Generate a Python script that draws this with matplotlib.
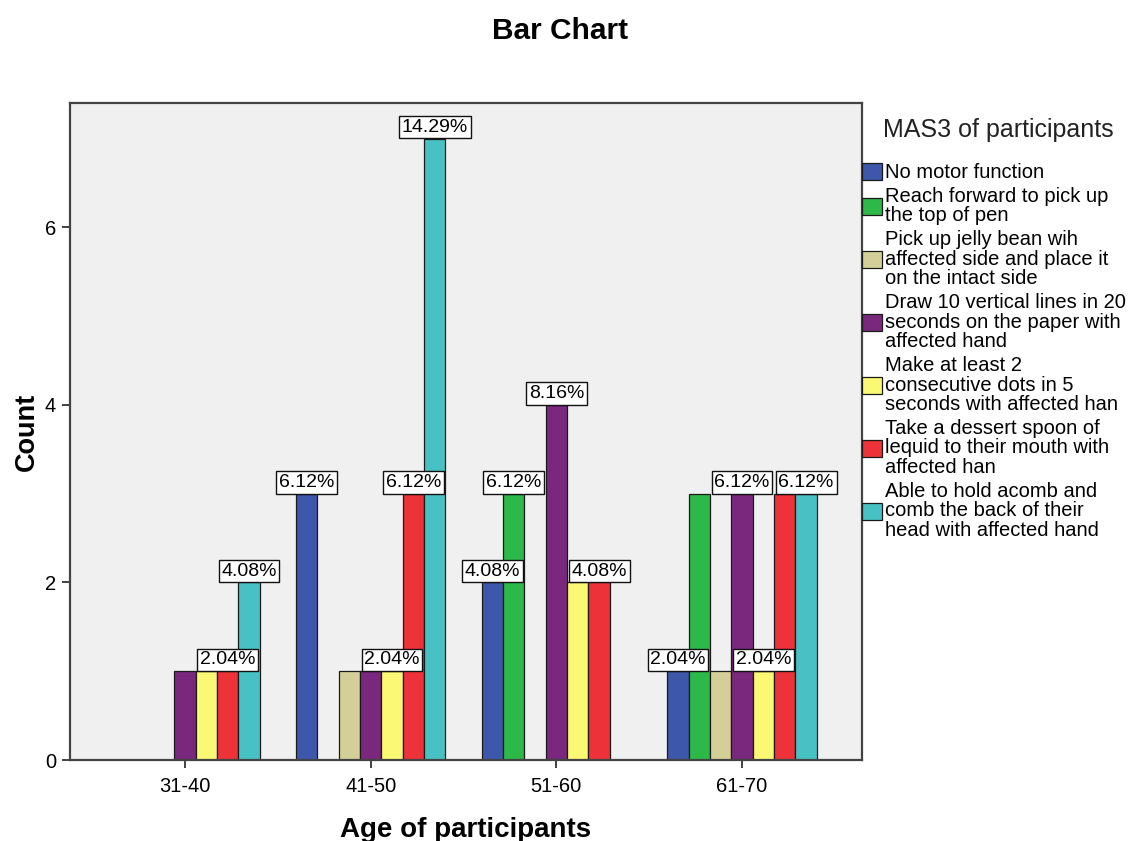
import numpy as np
import matplotlib
matplotlib.use("Agg")
import matplotlib.pyplot as plt
from matplotlib.patches import Patch

plt.rcParams['font.family'] = ['Liberation Sans', 'DejaVu Sans']

age_groups = ["31-40", "41-50", "51-60", "61-70"]
categories = [
    "No motor function",
    "Reach forward to pick up\nthe top of pen",
    "Pick up jelly bean wih\naffected side and place it\non the intact side",
    "Draw 10 vertical lines in 20\nseconds on the paper with\naffected hand",
    "Make at least 2\nconsecutive dots in 5\nseconds with affected han",
    "Take a dessert spoon of\nlequid to their mouth with\naffected han",
    "Able to hold acomb and\ncomb the back of their\nhead with affected hand",
]
colors = ["#3D57AA", "#2DB84A", "#D4CF98", "#7A287D", "#FBF874", "#EE3239", "#48C1C4"]

# counts per category, one value per age group
no_motor = [0, 3, 2, 1]
reach = [0, 0, 3, 3]
jelly = [0, 1, 0, 1]
draw_lines = [1, 1, 4, 3]
dots = [1, 1, 2, 1]
spoon = [1, 3, 2, 3]
comb = [2, 7, 0, 3]
counts = [no_motor, reach, jelly, draw_lines, dots, spoon, comb]
total = 49

# bars that carry a percentage label: (age group index, category index)
labelled = [(0, 5), (0, 6), (1, 0), (1, 4), (1, 5), (1, 6),
            (2, 0), (2, 1), (2, 3), (2, 5),
            (3, 0), (3, 3), (3, 4), (3, 6)]

W, H = 1139, 841
fig = plt.figure(figsize=(W / 100, H / 100), dpi=100)
ax = fig.add_axes([70 / W, 1 - 760 / H, (862 - 70) / W, (760 - 103) / H])
ax.set_facecolor("#F0F0F0")

x = np.arange(len(age_groups))
w = 0.115
n = len(categories)
for i in range(n):
    ax.bar(x + (i - (n - 1) / 2) * w, counts[i], width=w, color=colors[i],
           edgecolor="#1a1a1a", linewidth=0.9, zorder=2)

for g, i in labelled:
    v = counts[i][g]
    ax.annotate(f"{v / total * 100:.2f}%", xy=(x[g] + (i - (n - 1) / 2) * w, v),
                xytext=(0, 2), textcoords="offset points", ha="center", va="bottom",
                fontsize=14, zorder=5,
                bbox=dict(boxstyle="square,pad=0.14", fc="white", ec="#111111", lw=1))

ax.set_xlim(-0.619, 3.646)
ax.set_ylim(0, 7.4)
ax.set_yticks([0, 2, 4, 6])
ax.set_xticks(x)
ax.set_xticklabels(age_groups)
ax.tick_params(axis="both", labelsize=14.5, length=6, width=1.3, color="#333333", pad=4)
ax.tick_params(axis="x", pad=6)
for s in ax.spines.values():
    s.set_color("#444444")
    s.set_linewidth(1.6)

ax.set_ylabel("Count", fontsize=19.5, fontweight="bold")
ax.yaxis.set_label_coords(-0.038, 0.5)
ax.set_xlabel("Age of participants", fontsize=20, fontweight="bold", va="top")
ax.xaxis.set_label_coords(0.5, -0.087)

fig.text(560 / W, 1 - 31 / H, "Bar Chart", fontsize=21.5, fontweight="bold",
         ha="center", va="center")

fig.text(883 / W, 1 - 130 / H, "MAS3 of participants", fontsize=18,
         ha="left", va="center", color="#222222")
handles = [Patch(facecolor=c, edgecolor="#1a1a1a", linewidth=0.9) for c in colors]
leg = ax.legend(handles, categories, loc="upper left", bbox_to_anchor=(1.0, 1 - 60 / 657),
                frameon=False, fontsize=14.5, handlelength=1.0, handleheight=0.9,
                handletextpad=0.15, labelspacing=0.22, borderpad=0, borderaxespad=0)
for t in leg.get_texts():
    t.set_linespacing(1.05)

fig.savefig("out.png", dpi=100)
